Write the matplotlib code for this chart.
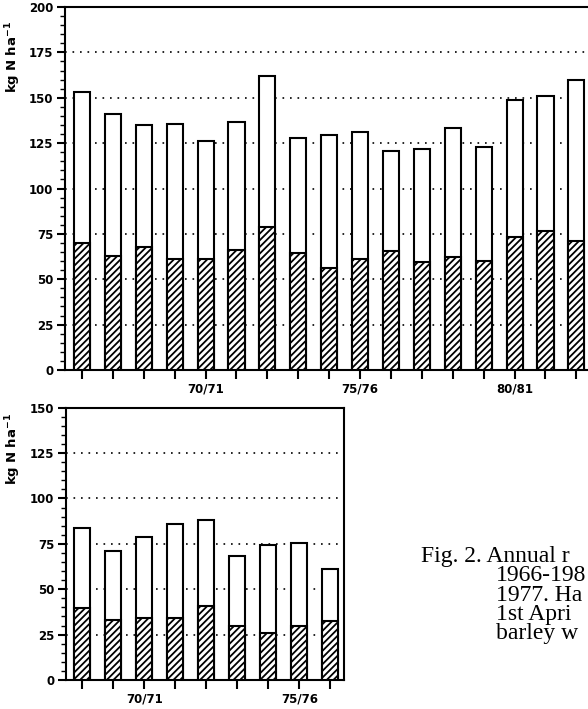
import matplotlib
matplotlib.use("Agg")
import matplotlib.pyplot as plt
from matplotlib.ticker import MultipleLocator

# ---------------- data ----------------
top_seasons = ['66/67', '67/68', '68/69', '69/70', '70/71', '71/72', '72/73', '73/74', '74/75',
               '75/76', '76/77', '77/78', '78/79', '79/80', '80/81', '81/82', '82/83']
top_total = [153, 141, 135, 135.5, 126, 136.5, 162, 128, 129.5, 131, 120.5, 121.5, 133.5, 123, 149, 151, 160]
top_hatched = [70, 63, 67.5, 61, 61, 66, 79, 64.5, 56, 61, 65.5, 59.5, 62.5, 60, 73.5, 76.5, 71]
top_labelled = ['70/71', '75/76', '80/81']

bottom_seasons = ['68/69', '69/70', '70/71', '71/72', '72/73', '73/74', '74/75', '75/76', '76/77']
bottom_total = [83.5, 71, 79, 86, 88, 68.5, 74.5, 75.5, 61]
bottom_hatched = [39.5, 33, 34, 34, 40.5, 29.5, 26, 29.5, 32.5]
bottom_labelled = ['70/71', '75/76']

ylabel_text = r'$\mathbf{kg\ N\ ha^{-1}}$'
caption_lines = ['Fig. 2. Annual r', '1966-198', '1977. Ha', '1st Apri', 'barley w']

# ---------------- figure ----------------
W, H = 588, 709
fig = plt.figure(figsize=(W / 100, H / 100), dpi=100)
plt.rcParams['hatch.linewidth'] = 1.3


def style_axes(ax, seasons, total, hatched, labelled, ymax, gridvals, xlim):
    x = list(range(len(seasons)))
    for g in gridvals:
        ax.axhline(g, color='black', lw=1.2, linestyle=(0, (1, 3.5)), zorder=0)
    ax.bar(x, total, width=0.52, color='white', edgecolor='black', linewidth=1.5, zorder=2)
    ax.bar(x, hatched, width=0.52, color='white', edgecolor='black', linewidth=1.5,
           hatch='/////', zorder=3)
    ax.set_xlim(*xlim)
    ax.set_ylim(0, ymax)
    ax.set_xticks(x)
    ax.set_xticklabels([s if s in labelled else '' for s in seasons])
    ax.yaxis.set_major_locator(MultipleLocator(25))
    ax.yaxis.set_minor_locator(MultipleLocator(5))
    ax.tick_params(axis='y', which='major', direction='out', length=5.5, width=1.5,
                   pad=3, labelsize=8.5)
    ax.tick_params(axis='y', which='minor', direction='out', length=3.5, width=1.0)
    ax.tick_params(axis='x', which='major', direction='out', length=6.5, width=1.5,
                   pad=2.5, labelsize=8.5)
    for lab in ax.get_xticklabels() + ax.get_yticklabels():
        lab.set_fontweight('bold')
    for sp in ax.spines.values():
        sp.set_linewidth(1.5)


# top panel
ax1 = fig.add_axes([65 / W, (H - 370) / H, 18 * 30.9 / W, 363 / H])
style_axes(ax1, top_seasons, top_total, top_hatched, top_labelled, 200,
           [25, 50, 75, 100, 125, 150, 175], (-0.55, 17.45))

# bottom panel
ax2 = fig.add_axes([66 / W, (H - 680) / H, 8.98 * 31 / W, 272.3 / H])
style_axes(ax2, bottom_seasons, bottom_total, bottom_hatched, bottom_labelled, 150,
           [25, 50, 75, 100, 125], (-0.53, 8.45))

# y labels
fig.text(13 / W, 1 - 57 / H, ylabel_text, rotation=90, ha='center', va='center', fontsize=9.5)
fig.text(13 / W, 1 - 449 / H, ylabel_text, rotation=90, ha='center', va='center', fontsize=9.5)

# caption
base_y = 562
for i, line in enumerate(caption_lines):
    xpos = 421 if i == 0 else 496
    fig.text(xpos / W, 1 - (base_y + i * 19.3) / H, line, ha='left', va='baseline',
             fontsize=17, family='Liberation Serif', fontweight='normal')

fig.savefig('out.png', dpi=100)
